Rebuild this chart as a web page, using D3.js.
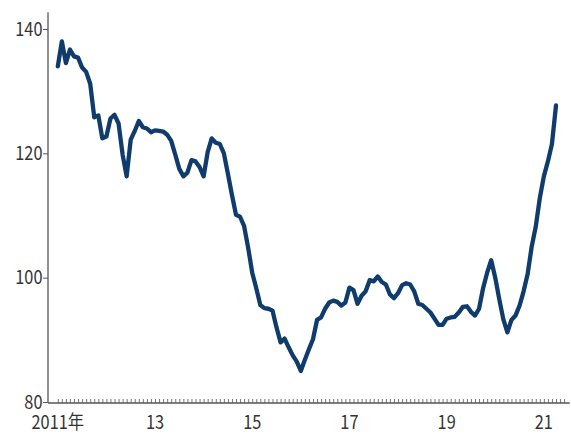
<!DOCTYPE html>
<html>
<head>
<meta charset="utf-8">
<script src="https://cdn.jsdelivr.net/npm/d3@7"></script>
<style>
  body { margin: 0; background: #fff; }
  svg text { font-family: "Noto Sans CJK JP", "Noto Sans", sans-serif; fill: #333; }
</style>
</head>
<body>
<div id="chart"></div>
<script>
// monthly index, Jan 2011 .. Apr 2021
const startYear = 2011;
const values = [
  134.0, 138.0, 134.5, 136.7, 135.6, 135.4, 133.8, 133.1, 131.2, 125.8, 126.1, 122.4,
  122.7, 125.6, 126.2, 124.8, 119.8, 116.3, 122.2, 123.6, 125.2, 124.2, 124.0, 123.4,
  123.7, 123.6, 123.5, 123.0, 122.0, 119.8, 117.5, 116.3, 116.9, 118.9, 118.7, 117.8,
  116.3, 120.2, 122.4, 121.7, 121.5, 120.0, 116.7, 113.3, 110.1, 109.8, 108.3, 104.8,
  100.8, 98.3, 95.6, 95.1, 95.0, 94.7, 92.0, 89.6, 90.2, 88.8, 87.5, 86.5,
  85.0, 86.8, 88.5, 90.1, 93.2, 93.6, 95.0, 96.0, 96.3, 96.1, 95.5, 96.0,
  98.4, 98.0, 95.8, 97.1, 97.8, 99.6, 99.4, 100.2, 99.3, 98.9, 97.3, 96.7,
  97.5, 98.8, 99.1, 98.9, 97.8, 95.8, 95.6, 95.0, 94.4, 93.4, 92.4, 92.4,
  93.4, 93.6, 93.7, 94.4, 95.3, 95.4, 94.5, 93.9, 95.0, 98.3, 100.8, 102.8,
  100.0, 96.5, 93.3, 91.2, 93.2, 93.9, 95.5, 97.8, 100.6, 105.0, 108.2, 112.8,
  116.3, 118.7, 121.5, 127.7
];
const yTicks = [80, 100, 120, 140];
const xLabelYears = [2011, 2013, 2015, 2017, 2019, 2021];
const xLabelText = ["2011年", "13", "15", "17", "19", "21"];

const width = 571, height = 434;
const data = values.map((v, i) => ({ m: i, v: v }));

const svg = d3.select("#chart").append("svg")
  .attr("width", width)
  .attr("height", height);

const x = d3.scaleLinear()
  .domain([0, values.length - 1])
  .range([57.8, 556]);

const y = d3.scaleLinear()
  .domain([80, 140])
  .range([402, 29]);

// condensed look of the original labels
const squeeze = 0.86;

// y axis
const yAxis = d3.axisLeft(y)
  .tickValues(yTicks)
  .tickSize(5)
  .tickFormat("");

const yg = svg.append("g")
  .attr("transform", "translate(48,0)")
  .call(yAxis);
yg.select(".domain").remove();
yg.selectAll("line").attr("stroke", "#555");

svg.append("g")
  .selectAll("text")
  .data(yTicks)
  .join("text")
  .attr("transform", d => `translate(42.5,${y(d) + 6.5}) scale(${squeeze},1)`)
  .attr("text-anchor", "end")
  .attr("font-size", "19px")
  .text(d => d);

svg.append("line")
  .attr("x1", 48).attr("x2", 48)
  .attr("y1", y(142.7)).attr("y2", y(80) + 1)
  .attr("stroke", "#555")
  .attr("stroke-width", 1.3);

// x axis: monthly minor ticks
const monthTicks = d3.range(0, 126);
const xAxis = d3.axisBottom(x)
  .tickValues(monthTicks)
  .tickSize(-4)
  .tickFormat("");

const xg = svg.append("g")
  .attr("transform", `translate(0,${y(80) + 1})`)
  .call(xAxis);
xg.select(".domain").remove();
xg.selectAll("line").attr("stroke", "#555").attr("stroke-width", 0.8);

svg.append("line")
  .attr("x1", 48).attr("x2", x(126.4))
  .attr("y1", y(80) + 1).attr("y2", y(80) + 1)
  .attr("stroke", "#555")
  .attr("stroke-width", 1.3);

// year labels
svg.append("g")
  .selectAll("text")
  .data(xLabelYears)
  .join("text")
  .attr("transform", d => `translate(${x((d - startYear) * 12)},428.5) scale(${squeeze},1)`)
  .attr("text-anchor", "middle")
  .attr("font-size", "19px")
  .text((d, i) => xLabelText[i]);

// line
const line = d3.line()
  .x(d => x(d.m))
  .y(d => y(d.v));

svg.append("path")
  .datum(data)
  .attr("fill", "none")
  .attr("stroke", "#0f3c6c")
  .attr("stroke-width", 4.3)
  .attr("stroke-linejoin", "round")
  .attr("stroke-linecap", "round")
  .attr("d", line);
</script>
</body>
</html>
